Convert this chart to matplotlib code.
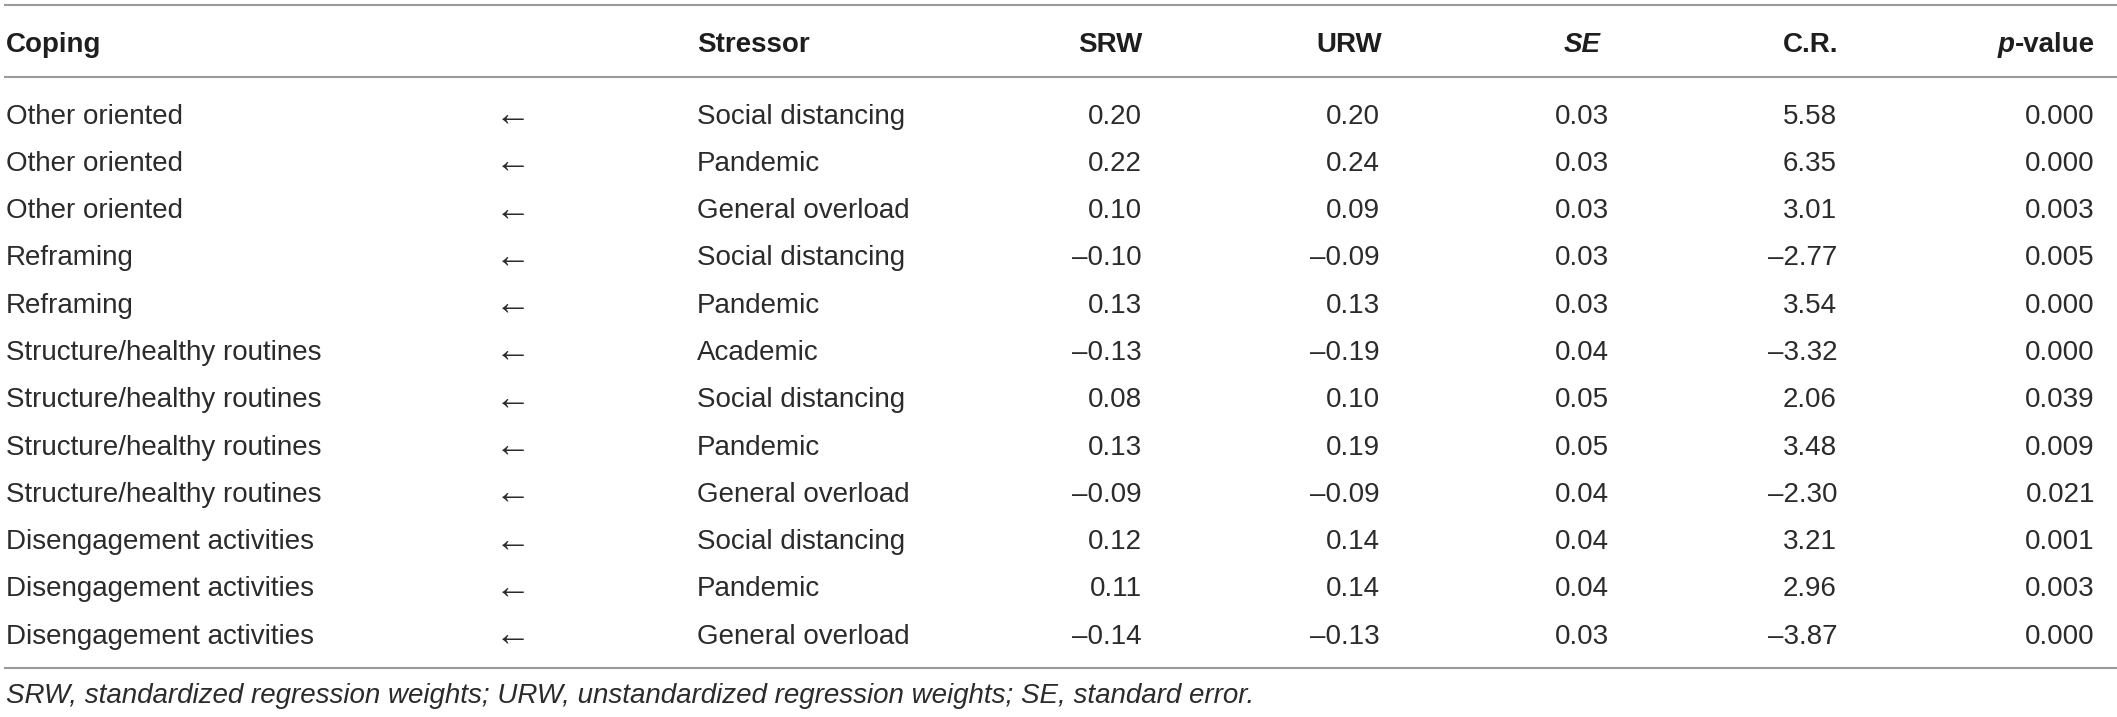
import matplotlib
matplotlib.use("Agg")
import matplotlib.pyplot as plt

plt.rcParams["font.family"] = ["Liberation Sans", "DejaVu Sans"]

# table data
coping = [
    "Other oriented", "Other oriented", "Other oriented",
    "Reframing", "Reframing",
    "Structure/healthy routines", "Structure/healthy routines",
    "Structure/healthy routines", "Structure/healthy routines",
    "Disengagement activities", "Disengagement activities",
    "Disengagement activities",
]
stressor = [
    "Social distancing", "Pandemic", "General overload",
    "Social distancing", "Pandemic",
    "Academic", "Social distancing", "Pandemic", "General overload",
    "Social distancing", "Pandemic", "General overload",
]
srw = [0.20, 0.22, 0.10, -0.10, 0.13, -0.13, 0.08, 0.13, -0.09, 0.12, 0.11, -0.14]
urw = [0.20, 0.24, 0.09, -0.09, 0.13, -0.19, 0.10, 0.19, -0.09, 0.14, 0.14, -0.13]
se = [0.03, 0.03, 0.03, 0.03, 0.03, 0.04, 0.05, 0.05, 0.04, 0.04, 0.04, 0.03]
cr = [5.58, 6.35, 3.01, -2.77, 3.54, -3.32, 2.06, 3.48, -2.30, 3.21, 2.96, -3.87]
pval = [0.000, 0.000, 0.003, 0.005, 0.000, 0.000, 0.039, 0.009, 0.021, 0.001, 0.003, 0.000]
footnote = ("SRW, standardized regression weights; URW, unstandardized "
            "regression weights; SE, standard error.")

W, H = 2117, 717
fig = plt.figure(figsize=(W / 100, H / 100), dpi=100)
ax = fig.add_axes([0, 0, 1, 1])
ax.set_xlim(0, W)
ax.set_ylim(H, 0)
ax.axis("off")

body = dict(fontsize=20, color="#2b2b2b")
head = dict(fontsize=20, color="#1e1e1e", fontweight="bold")
line_kw = dict(color="#9a9a9a", linewidth=1.5)


def num(v, fmt):
    return format(v, fmt).replace("-", "\u2013")


# rules
for y in (5, 77, 668):
    ax.plot([5, W], [y, y], **line_kw)

# header
hb = 52
ax.text(6, hb, "Coping", ha="left", va="baseline", **head)
ax.text(697, hb, "Stressor", ha="left", va="baseline", **head)
ax.text(1143, hb, "SRW", ha="right", va="baseline", **head)
ax.text(1382, hb, "URW", ha="right", va="baseline", **head)
ax.text(1582, hb, "SE", ha="center", va="baseline", style="italic", **head)
ax.text(1838, hb, "C.R.", ha="right", va="baseline", **head)
t = ax.text(2095, hb, "-value", ha="right", va="baseline", **head)
fig.canvas.draw()
bb = t.get_window_extent()
ax.text(bb.x0, hb, "p", ha="right", va="baseline", style="italic", **head)

# rows
y0, dy = 123.5, 47.3
for i in range(len(coping)):
    y = y0 + dy * i
    ax.text(6, y, coping[i], ha="left", va="baseline", **body)
    ax.text(513, y + 2, "\u2190", ha="center", va="baseline",
            fontsize=26, color="#2b2b2b")
    ax.text(697, y, stressor[i], ha="left", va="baseline", **body)
    ax.text(1142, y, num(srw[i], ".2f"), ha="right", va="baseline", **body)
    ax.text(1380, y, num(urw[i], ".2f"), ha="right", va="baseline", **body)
    ax.text(1582, y, num(se[i], ".2f"), ha="center", va="baseline", **body)
    ax.text(1837, y, num(cr[i], ".2f"), ha="right", va="baseline", **body)
    ax.text(2095, y, num(pval[i], ".3f"), ha="right", va="baseline", **body)

ax.text(6, 703, footnote, ha="left", va="baseline", style="italic",
        fontsize=20, color="#2b2b2b")

fig.savefig("out.png", dpi=100)
